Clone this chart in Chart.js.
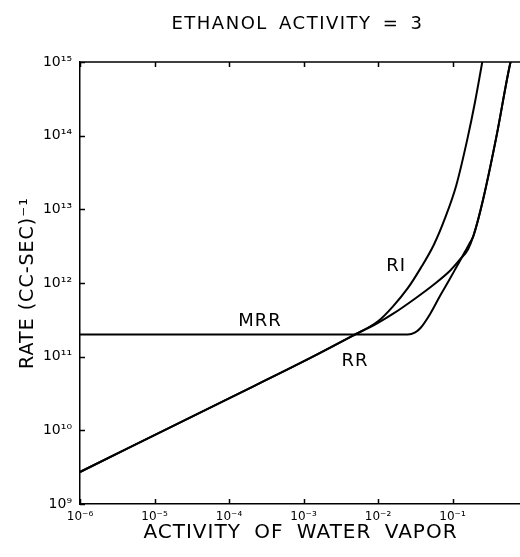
<!DOCTYPE html>
<html><head><meta charset="utf-8">
<script src="https://cdn.jsdelivr.net/npm/chart.js@4.4.0/dist/chart.umd.min.js"></script>
<style>
html,body{margin:0;padding:0;background:#fff;overflow:hidden;width:520px;height:557px;}
#wrap{width:540px;height:557px;}
canvas{display:block;}
</style></head><body>
<div id="wrap"><canvas id="c" width="540" height="557"></canvas></div>
<script>
const chartTitle = 'ETHANOL ACTIVITY = 3';
const xAxisTitle = 'ACTIVITY OF WATER VAPOR';
const yAxisTitle = 'RATE (CC-SEC)⁻¹';

const xTickValues = [1e-6, 1e-5, 1e-4, 1e-3, 1e-2, 1e-1, 1];
const xTickLabels = ['10⁻⁶', '10⁻⁵', '10⁻⁴', '10⁻³', '10⁻²', '10⁻¹', ''];
const yTickValues = [1e9, 1e10, 1e11, 1e12, 1e13, 1e14, 1e15];
const yTickLabels = ['10⁹', '10¹⁰', '10¹¹', '10¹²', '10¹³', '10¹⁴', '10¹⁵'];

// RI curve
const riActivity = [1e-6, 1e-4, 1e-3, 4.47e-3, 1e-2, 0.0158, 0.0251, 0.0372, 0.0562, 0.0794, 0.112, 0.158, 0.200, 0.251];
const riRate     = [2.72e9, 2.72e10, 8.61e10, 1.9e11, 3.02e11, 4.79e11, 8.51e11, 1.58e12, 3.31e12, 7.59e12, 2.09e13, 8.91e13, 2.82e14, 1e15];

// RR curve
const rrActivity = [1e-6, 1e-4, 1e-3, 4.47e-3, 1e-2, 0.0158, 0.0316, 0.0562, 0.0933, 0.126, 0.162, 0.191, 0.257, 0.389, 0.589, 0.603];
const rrRate     = [2.72e9, 2.72e10, 8.61e10, 1.9e11, 2.88e11, 3.80e11, 6.17e11, 9.55e11, 1.48e12, 2.09e12, 2.88e12, 4.37e12, 1.35e13, 9.77e13, 9.12e14, 1e15];

// MRR curve
const mrrActivity = [1e-6, 0.0251, 0.0316, 0.0372, 0.0501, 0.0676, 0.0891, 0.115, 0.148, 0.172, 0.191, 0.257, 0.389, 0.589, 0.603];
const mrrRate     = [2.0e11, 2.0e11, 2.14e11, 2.45e11, 3.80e11, 6.61e11, 1.07e12, 1.70e12, 2.69e12, 3.55e12, 4.37e12, 1.35e13, 9.77e13, 9.12e14, 1e15];

const curveLabels = ['RI', 'RR', 'MRR'];
const curveLabelActivity = [0.0175, 4.9e-3, 2.6e-4];
const curveLabelRate = [1.68e12, 8.7e10, 3.0e11];

const toPoints = (xs, ys) => xs.map((x, i) => ({x: x, y: ys[i]}));

const lineStyle = {
  borderColor: '#000', borderWidth: 2, pointRadius: 0, fill: false,
  cubicInterpolationMode: 'monotone'
};

const FONT = '"DejaVu Sans", sans-serif';

const framePlugin = {
  id: 'frame',
  afterDraw(chart) {
    const ctx = chart.ctx;
    const a = chart.chartArea;
    const xs = chart.scales.x, ys = chart.scales.y;
    ctx.save();
    ctx.strokeStyle = '#000';
    ctx.lineWidth = 1.5;
    ctx.beginPath();
    ctx.moveTo(a.left, a.top);
    ctx.lineTo(a.right, a.top);
    xTickValues.forEach(v => {
      const px = Math.round(xs.getPixelForValue(v)) + 0.5;
      ctx.moveTo(px, a.bottom); ctx.lineTo(px, a.bottom - 5);
      ctx.moveTo(px, a.top); ctx.lineTo(px, a.top + 5);
    });
    yTickValues.forEach(v => {
      const py = Math.round(ys.getPixelForValue(v)) + 0.5;
      ctx.moveTo(a.left, py); ctx.lineTo(a.left + 5, py);
    });
    ctx.stroke();

    ctx.fillStyle = '#000';
    ctx.textAlign = 'center';
    ctx.textBaseline = 'middle';
    ctx.font = '18px ' + FONT;
    ctx.letterSpacing = '1px';
    curveLabels.forEach((t, i) => {
      ctx.fillText(t, xs.getPixelForValue(curveLabelActivity[i]), ys.getPixelForValue(curveLabelRate[i]));
    });

    // chart title
    ctx.font = '18px ' + FONT;
    ctx.letterSpacing = '1.5px';
    ctx.wordSpacing = '4px';
    ctx.fillText(chartTitle, (a.left + a.right) / 2 - 6, 24);

    // x axis title
    ctx.font = '20px ' + FONT;
    ctx.letterSpacing = '1px';
    ctx.wordSpacing = '6px';
    ctx.fillText(xAxisTitle, (a.left + a.right) / 2 - 3, a.bottom + 29);

    // y axis title
    ctx.save();
    ctx.translate(28, (a.top + a.bottom) / 2);
    ctx.rotate(-Math.PI / 2);
    ctx.font = '19px ' + FONT;
    ctx.letterSpacing = '1px';
    ctx.wordSpacing = '0px';
    ctx.fillText(yAxisTitle, 0, 0);
    ctx.restore();
    ctx.restore();
  }
};

new Chart(document.getElementById('c'), {
  type: 'line',
  data: {
    datasets: [
      Object.assign({label: 'RI', data: toPoints(riActivity, riRate)}, lineStyle),
      Object.assign({label: 'RR', data: toPoints(rrActivity, rrRate)}, lineStyle),
      Object.assign({label: 'MRR', data: toPoints(mrrActivity, mrrRate)}, lineStyle)
    ]
  },
  options: {
    responsive: false,
    animation: false,
    layout: {padding: {top: 62, left: 0, right: 13, bottom: 0}},
    plugins: {legend: {display: false}, tooltip: {enabled: false}, title: {display: false}},
    scales: {
      x: {
        type: 'logarithmic', min: 1e-6, max: 1,
        afterBuildTicks: s => { s.ticks = xTickValues.map(v => ({value: v})); },
        afterFit: s => { s.height = 53; },
        grid: {display: false, drawTicks: false},
        border: {display: true, color: '#000', width: 1.5},
        ticks: {
          color: '#000', font: {family: 'DejaVu Sans', size: 12}, padding: 6,
          maxRotation: 0, autoSkip: false,
          callback: (v) => { const i = xTickValues.indexOf(v); return i >= 0 ? xTickLabels[i] : ''; }
        },
        title: {display: false}
      },
      y: {
        type: 'logarithmic', min: 1e9, max: 1e15,
        afterBuildTicks: s => { s.ticks = yTickValues.map(v => ({value: v})); },
        afterFit: s => { s.width = 80; },
        grid: {display: false, drawTicks: false},
        border: {display: true, color: '#000', width: 1.5},
        ticks: {
          color: '#000', font: {family: 'DejaVu Sans', size: 14}, padding: 8,
          autoSkip: false,
          callback: (v) => { const i = yTickValues.indexOf(v); return i >= 0 ? yTickLabels[i] : ''; }
        },
        title: {display: false}
      }
    }
  },
  plugins: [framePlugin]
});
</script>
</body></html>
